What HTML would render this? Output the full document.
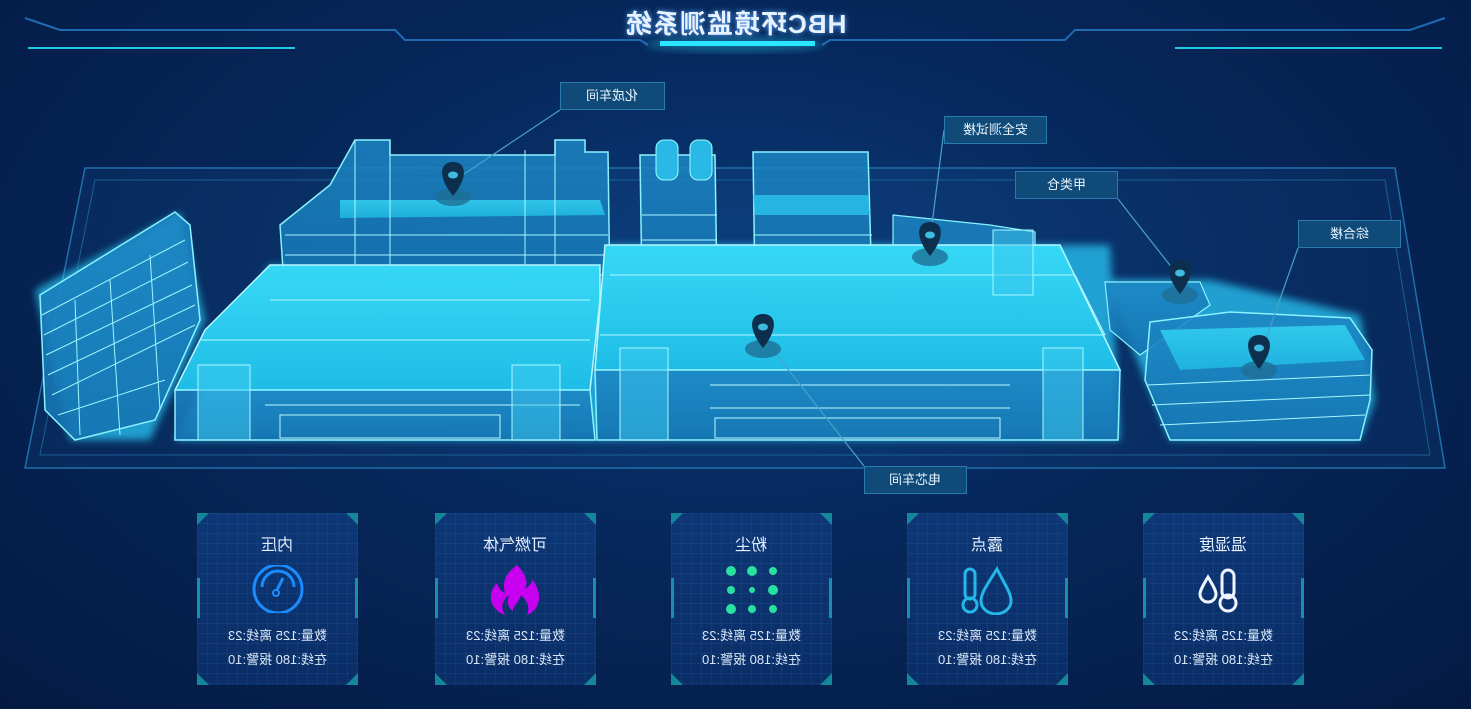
<!DOCTYPE html>
<html><head><meta charset="utf-8"><style>
*{margin:0;padding:0;box-sizing:border-box}
body{width:1471px;height:709px;overflow:hidden;background:radial-gradient(ellipse at 50% 40%,#0a3a78 0%,#06275a 45%,#041a44 100%);font-family:"Liberation Sans","Noto Sans CJK SC",sans-serif;position:relative}
.f{transform:scaleX(-1);display:inline-block}
.abs{position:absolute}
.title{left:0;width:1471px;top:4px;text-align:center;color:#e8f2ff;font-size:26px;font-weight:bold;letter-spacing:1px;text-shadow:0 0 6px #5aaaff}
.lbl{position:absolute;height:28px;background:#0f4a78;border:1px solid #2a7ab0;color:#e6f4ff;font-size:13px;line-height:26px;text-align:center}
.card{position:absolute;top:513px;width:161px;height:172px;background:linear-gradient(180deg,rgba(20,70,140,.55),rgba(10,45,100,.6));
background-image:linear-gradient(rgba(60,130,220,.12) 1px,transparent 1px),linear-gradient(90deg,rgba(60,130,220,.12) 1px,transparent 1px),linear-gradient(180deg,#0d3776,#0a2e66);background-size:10px 10px,10px 10px,100% 100%}
.card .h{position:absolute;top:18px;width:100%;text-align:center;color:#e6f0ff;font-size:16px}
.card .t{position:absolute;width:100%;text-align:center;color:#d8e6f8;font-size:13px}
.c{position:absolute;width:0;height:0;border:6px solid transparent}
.sb{position:absolute;top:65px;width:3px;height:40px;background:#1a8fa8}
</style></head><body>
<svg class="abs" style="left:0;top:0" width="1471" height="709">
<defs>
<linearGradient id="roof" x1="0" y1="0" x2="0" y2="1"><stop offset="0" stop-color="#36d8f6"/><stop offset="1" stop-color="#1fbde6"/></linearGradient>
<linearGradient id="wall" x1="0" y1="0" x2="0" y2="1"><stop offset="0" stop-color="#1c86c4" stop-opacity=".85"/><stop offset="1" stop-color="#1473b0" stop-opacity=".9"/></linearGradient>
<filter id="gl"><feGaussianBlur stdDeviation="4"/></filter>
</defs>
<!-- header lines -->
<polyline points="25,18 60,30 395,30 405,40 640,40 648,45" stroke="#1f6ab0" fill="none" stroke-width="2"/>
<polyline points="1445,18 1410,30 1075,30 1065,40 830,40 822,45" stroke="#1f6ab0" fill="none" stroke-width="2"/>
<line x1="28" y1="48" x2="295" y2="48" stroke="#1fc9e8" stroke-width="2"/>
<line x1="1175" y1="48" x2="1442" y2="48" stroke="#1fc9e8" stroke-width="2"/>
<rect x="660" y="41" width="155" height="5" fill="#2ae6ff"/>
<ellipse cx="735" cy="44" rx="90" ry="8" fill="#2ae6ff" opacity=".3" filter="url(#gl)"/>
<!-- platform -->
<polygon points="25,468 1445,468 1395,168 85,168" fill="rgba(30,110,180,.12)" stroke="#1f6fa8" stroke-width="1.5"/>
<polygon points="40,455 1430,455 1385,180 95,180" fill="none" stroke="#1a5f95" stroke-width="1"/>
<!-- glow -->
<g filter="url(#gl)" opacity=".7">
<polygon points="35,290 180,212 205,320 150,440 70,440" fill="#2ad0ff"/>
<polygon points="175,440 1120,440 1110,245 605,245 600,300 270,265" fill="#2ad0ff"/>
<polygon points="1105,280 1210,280 1360,315 1375,400 1360,440 1170,440" fill="#2ad0ff"/>
</g>
<!-- left tall building -->
<polygon points="40,295 175,212 190,225 200,320 155,420 75,440 45,410" fill="url(#wall)" stroke="#8af2ff" stroke-width="1.5"/>
<g stroke="#9ff5ff" stroke-width="1" fill="none">
<path d="M42,315 L185,240 M44,335 L188,262 M46,355 L192,285 M48,375 L195,305 M52,395 L195,325 M58,415 L165,380 M75,300 L80,435 M110,280 L120,435 M150,255 L160,410"/>
</g>
<!-- upper building 化成车间 -->
<polygon points="280,225 330,185 355,140 390,140 390,155 555,155 555,140 585,140 585,152 608,152 610,300 285,300" fill="url(#wall)" stroke="#8af2ff" stroke-width="1.5"/>
<polygon points="340,200 600,200 605,215 340,218" fill="url(#roof)" opacity=".8"/>
<g stroke="#a8f7ff" stroke-width="1" fill="none"><path d="M285,235 L608,235 M285,255 L608,255 M285,275 L608,275 M355,140 L355,300 M390,140 L390,300 M525,150 L525,300 M555,140 L555,300"/></g>
<!-- towers -->
<polygon points="640,155 715,155 717,290 642,290" fill="url(#wall)" stroke="#8af2ff" stroke-width="1.5"/>
<rect x="656" y="140" width="22" height="40" fill="#2ab8e6" stroke="#9ff" rx="8"/>
<rect x="690" y="140" width="22" height="40" fill="#2ab8e6" stroke="#9ff" rx="8"/>
<polygon points="753,152 868,152 872,290 755,290" fill="url(#wall)" stroke="#8af2ff" stroke-width="1.5"/>
<polygon points="753,195 868,195 870,215 755,215" fill="#2bc4ec" opacity=".8"/>
<g stroke="#a8f7ff" fill="none"><path d="M642,215 L717,215 M642,240 L717,240 M755,235 L872,235 M755,255 L872,255"/></g>
<!-- small bldg 安全测试楼 -->
<polygon points="893,215 990,225 1035,232 1035,295 893,295" fill="url(#wall)" stroke="#8af2ff" stroke-width="1.2"/>
<!-- main left hall -->
<polygon points="205,330 270,265 600,265 600,300 590,390 175,390" fill="url(#roof)" stroke="#b4f8ff" stroke-width="1.5"/>
<polygon points="175,390 590,390 595,440 175,440" fill="url(#wall)" stroke="#8af2ff" stroke-width="1.5"/>
<!-- central hall -->
<polygon points="605,245 1060,245 1120,370 595,370" fill="url(#roof)" stroke="#b4f8ff" stroke-width="1.5"/>
<polygon points="595,370 1120,370 1118,440 597,440" fill="url(#wall)" stroke="#8af2ff" stroke-width="1.5"/>
<g stroke="#b4f8ff" fill="none" stroke-width="1"><path d="M610,275 L1075,275 M600,335 L1105,335 M600,300 L595,370 M1075,275 L1105,335 M200,340 L590,340 M270,300 L590,300"/></g>
<g stroke="#bff8ff" stroke-width="1" fill="none">
<path d="M710,385 L1010,385 M710,408 L1010,408 M715,418 L1000,418 L1000,438 L715,438 Z M265,405 L580,405 M280,415 L500,415 L500,438 L280,438 Z"/>
</g>
<rect x="620" y="348" width="48" height="92" fill="rgba(60,200,240,.5)" stroke="#a8f7ff"/>
<rect x="1043" y="348" width="40" height="92" fill="rgba(60,200,240,.5)" stroke="#a8f7ff"/>
<rect x="198" y="365" width="52" height="75" fill="rgba(60,200,240,.5)" stroke="#a8f7ff"/>
<rect x="512" y="365" width="48" height="75" fill="rgba(60,200,240,.5)" stroke="#a8f7ff"/>
<rect x="993" y="230" width="40" height="65" fill="rgba(60,200,240,.5)" stroke="#a8f7ff"/>
<!-- right buildings -->
<polygon points="1105,282 1200,282 1210,305 1140,355 1110,330" fill="url(#wall)" stroke="#8af2ff" stroke-width="1.2"/>
<polygon points="1150,322 1230,312 1350,318 1372,350 1370,400 1360,440 1170,440 1145,380" fill="url(#wall)" stroke="#8af2ff" stroke-width="1.5"/>
<polygon points="1160,330 1345,325 1365,360 1180,370" fill="url(#roof)" opacity=".8"/>
<g stroke="#a8f7ff" fill="none"><path d="M1148,385 L1370,375 M1152,405 L1370,395 M1160,425 L1365,415"/></g>
<!-- leader lines -->
<g stroke="#4aa0c8" stroke-width="1.2" fill="none">
<path d="M560,110 L455,180 M944,130 L930,240 M1118,199 L1180,278 M1298,248 L1262,350 M864,466 L765,340"/>
</g>
<!-- pins -->
<g fill="#0d2f4d">
<g transform="translate(453,180)"><ellipse cx="0" cy="17" rx="18" ry="9" fill="#1e6f96" opacity=".8"/><path d="M0,16 C-16,-4 -13,-18 0,-18 C13,-18 16,-4 0,16Z"/><ellipse cx="0" cy="-5" rx="5" ry="3.5" fill="#3fbbe0"/></g>
<g transform="translate(930,240)"><ellipse cx="0" cy="17" rx="18" ry="9" fill="#1e6f96" opacity=".8"/><path d="M0,16 C-16,-4 -13,-18 0,-18 C13,-18 16,-4 0,16Z"/><ellipse cx="0" cy="-5" rx="5" ry="3.5" fill="#3fbbe0"/></g>
<g transform="translate(1180,278)"><ellipse cx="0" cy="17" rx="18" ry="9" fill="#1e6f96" opacity=".8"/><path d="M0,16 C-16,-4 -13,-18 0,-18 C13,-18 16,-4 0,16Z"/><ellipse cx="0" cy="-5" rx="5" ry="3.5" fill="#3fbbe0"/></g>
<g transform="translate(1259,353)"><ellipse cx="0" cy="17" rx="18" ry="9" fill="#1e6f96" opacity=".8"/><path d="M0,16 C-16,-4 -13,-18 0,-18 C13,-18 16,-4 0,16Z"/><ellipse cx="0" cy="-5" rx="5" ry="3.5" fill="#3fbbe0"/></g>
<g transform="translate(763,332)"><ellipse cx="0" cy="17" rx="18" ry="9" fill="#1e6f96" opacity=".8"/><path d="M0,16 C-16,-4 -13,-18 0,-18 C13,-18 16,-4 0,16Z"/><ellipse cx="0" cy="-5" rx="5" ry="3.5" fill="#3fbbe0"/></g>
</g>
</svg>
<div class="abs title"><span class="f">HBC环境监测系统</span></div>
<div class="lbl" style="left:560px;top:82px;width:105px"><span class="f">化成车间</span></div>
<div class="lbl" style="left:944px;top:116px;width:103px"><span class="f">安全测试楼</span></div>
<div class="lbl" style="left:1015px;top:171px;width:103px"><span class="f">甲类仓</span></div>
<div class="lbl" style="left:1298px;top:220px;width:103px"><span class="f">综合楼</span></div>
<div class="lbl" style="left:864px;top:466px;width:103px"><span class="f">电芯车间</span></div>

<!-- cards -->
<div class="card" style="left:197px"><div class="h"><span class="f">内压</span></div>
<svg class="abs" style="left:53px;top:52px" width="56" height="48"><circle cx="28" cy="24" r="24" fill="none" stroke="#1a8cff" stroke-width="3"/><path d="M12,22 A16,16 0 0 1 44,22" fill="none" stroke="#1a8cff" stroke-width="3"/><circle cx="26" cy="28" r="3" fill="none" stroke="#1a8cff" stroke-width="2"/><line x1="27" y1="25" x2="33" y2="13" stroke="#1a8cff" stroke-width="3"/></svg>
<div class="t" style="top:112px"><span class="f">数量:125 离线:23</span></div><div class="t" style="top:136px"><span class="f">在线:180 报警:10</span></div></div>
<div class="card" style="left:435px"><div class="h"><span class="f">可燃气体</span></div>
<svg class="abs" style="left:52px;top:52px" width="56" height="50"><path d="M30,0 C42,12 40,20 38,24 C44,20 46,16 45,14 C56,28 54,44 40,50 C44,40 38,34 34,30 C32,38 26,40 26,46 C20,42 20,36 22,30 C14,36 14,44 18,50 C2,44 0,28 10,18 C12,24 14,26 18,28 C14,14 22,6 30,0Z" fill="#c800f0"/></svg>
<div class="t" style="top:112px"><span class="f">数量:125 离线:23</span></div><div class="t" style="top:136px"><span class="f">在线:180 报警:10</span></div></div>
<div class="card" style="left:671px"><div class="h"><span class="f">粉尘</span></div>
<svg class="abs" style="left:52px;top:52px" width="58" height="50" fill="#28e0a0"><circle cx="8" cy="6" r="5"/><circle cx="29" cy="6" r="5"/><circle cx="50" cy="6" r="4"/><circle cx="8" cy="25" r="4"/><circle cx="29" cy="25" r="3"/><circle cx="50" cy="25" r="5"/><circle cx="8" cy="44" r="5"/><circle cx="29" cy="44" r="4"/><circle cx="50" cy="44" r="4"/></svg>
<div class="t" style="top:112px"><span class="f">数量:125 离线:23</span></div><div class="t" style="top:136px"><span class="f">在线:180 报警:10</span></div></div>
<div class="card" style="left:907px"><div class="h"><span class="f">露点</span></div>
<svg class="abs" style="left:52px;top:52px" width="58" height="50" fill="none" stroke="#23b8e8" stroke-width="3"><path d="M38,4 C28,20 22,28 22,36 A14,12 0 0 0 52,36 C52,28 46,20 38,4Z"/><rect x="6" y="4" width="10" height="30" rx="5"/><circle cx="11" cy="40" r="7"/></svg>
<div class="t" style="top:112px"><span class="f">数量:125 离线:23</span></div><div class="t" style="top:136px"><span class="f">在线:180 报警:10</span></div></div>
<div class="card" style="left:1143px"><div class="h"><span class="f">温湿度</span></div>
<svg class="abs" style="left:55px;top:54px" width="50" height="46" fill="none" stroke="#f0f4ff" stroke-width="3"><rect x="24" y="3" width="12" height="28" rx="6"/><circle cx="30" cy="36" r="8"/><path d="M10,10 C4,20 2,24 2,27 A8,8 0 0 0 18,27 C18,24 16,20 10,10Z"/></svg>
<div class="t" style="top:112px"><span class="f">数量:125 离线:23</span></div><div class="t" style="top:136px"><span class="f">在线:180 报警:10</span></div></div>

<style>
.card::before,.card::after{content:"";position:absolute;top:0;width:12px;height:12px;background:#14889a}
.card::before{left:0;clip-path:polygon(0 0,100% 0,0 100%)}
.card::after{right:0;clip-path:polygon(0 0,100% 0,100% 100%)}
</style>
<div class="abs" style="display:none"></div>
<script></script>
<div id="corners"></div>
<style>
.bl,.br{position:absolute;bottom:0;width:12px;height:12px;background:#14889a}
.bl{left:0;clip-path:polygon(0 0,100% 100%,0 100%)}
.br{right:0;clip-path:polygon(100% 0,100% 100%,0 100%)}
</style>
<script>
document.querySelectorAll('.card').forEach(function(c){['bl','br'].forEach(function(k){var d=document.createElement('div');d.className=k;c.appendChild(d);});var a=document.createElement('div');a.className='sb';a.style.left='0';c.appendChild(a);var b=document.createElement('div');b.className='sb';b.style.right='0';c.appendChild(b);});
</script>
</body></html>
